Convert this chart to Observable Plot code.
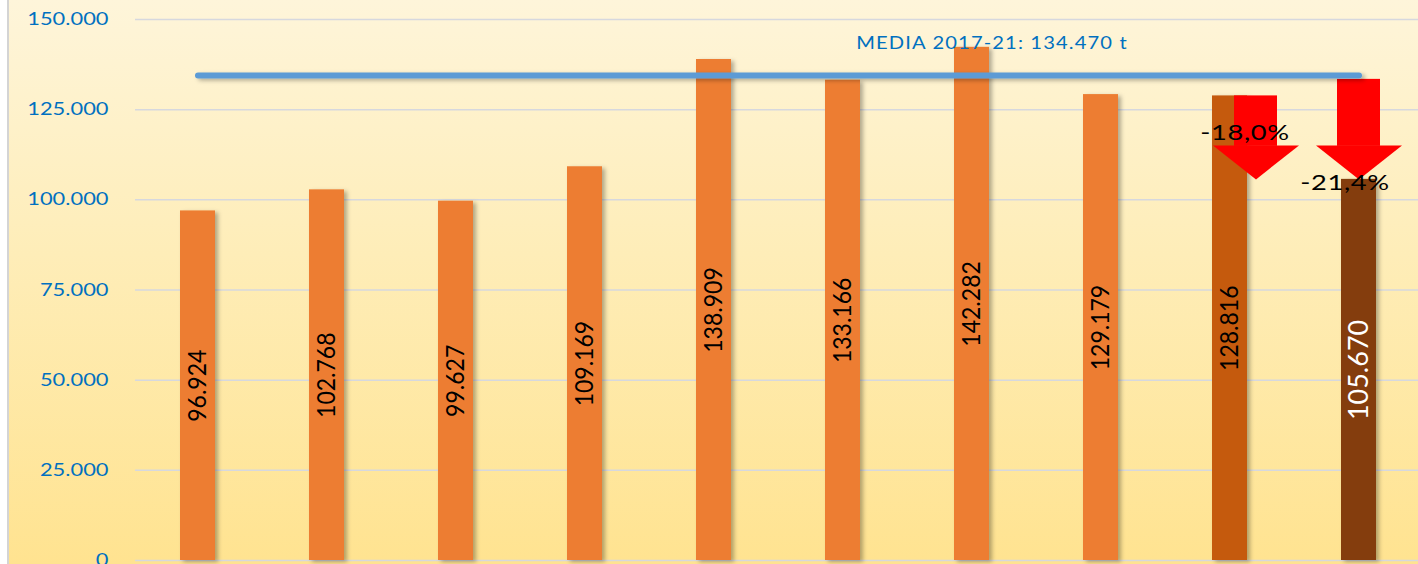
<!DOCTYPE html>
<html>
<head>
<meta charset="utf-8">
<script src="https://cdn.jsdelivr.net/npm/d3@7"></script>
<script src="https://cdn.jsdelivr.net/npm/@observablehq/plot@0.6"></script>
<style>
  html, body { margin: 0; padding: 0; background: #fff; }
  #chart svg { display: block; }
</style>
</head>
<body>
<div id="chart"></div>
<script>
// ---- data ----
const years = ["2013", "2014", "2015", "2016", "2017", "2018", "2019", "2020", "2021", "2022"];
const values = [96924, 102768, 99627, 109169, 138909, 133166, 142282, 129179, 128816, 105670];
const meanValue = 134470;
const meanLabel = "MEDIA 2017-21: 134.470 t";
const yTicks = [0, 25000, 50000, 75000, 100000, 125000, 150000];
const changeFrom = ["2021", "2022"];
const changeTop = [128816, 133400];
const changeTip = [105670, 105670];
const changeLabels = ["-18,0%", "-21,4%"];
const changeLabelY = [118400, 104500];

// ---- styles ----
const barPalette = ["#ED7D31", "#ED7D31", "#ED7D31", "#ED7D31", "#ED7D31", "#ED7D31", "#ED7D31", "#ED7D31", "#C55A11", "#843C0C"];
const arrowDx = [26, 0];
const labelDx = [15, -14];
const blue = "#0070C0";

const fmt = v => d3.format(",")(v).replace(/,/g, ".");
const bars = years.map((y, i) => ({year: y, value: values[i], color: barPalette[i], label: fmt(values[i])}));
const changes = changeFrom.map((y, i) => ({year: y, top: changeTop[i], tip: changeTip[i], label: changeLabels[i], labelY: changeLabelY[i]}));

const headSymbol = {
  draw(ctx) {
    ctx.moveTo(-43, -34);
    ctx.lineTo(43, -34);
    ctx.lineTo(0, 0);
    ctx.closePath();
  }
};

const arrowMarks = changes.flatMap((c, i) => [
  Plot.barY([c], {x: "year", y1: "tip", y2: "top", fill: "#FF0000", insetLeft: -4, insetRight: -4, insetBottom: 33, dx: arrowDx[i]}),
  Plot.dot([c], {x: "year", y: "tip", symbol: headSymbol, fill: "#FF0000", stroke: "none", dx: arrowDx[i]}),
  Plot.text([c], {x: "year", y: "labelY", text: "label", dx: labelDx[i], fill: "#000", fontSize: 21, className: "pct"})
]);

const svg = Plot.plot({
  width: 1418,
  height: 564,
  marginLeft: 135,
  marginRight: 0,
  marginTop: 19,
  marginBottom: 4,
  style: {
    fontFamily: "Lato, 'Open Sans', sans-serif",
    background: "linear-gradient(to right, #ffffff 0px, #ffffff 7px, #d4d4d4 7px, #d4d4d4 9px, transparent 9px), linear-gradient(to bottom, #FEF5DA 0%, #FEEDB8 45%, #FFE390 100%)"
  },
  x: {type: "band", domain: years, range: [132.5, 1422.5], paddingInner: 0.73, paddingOuter: 0.365, axis: null},
  y: {domain: [0, 150000], range: [560, 19], axis: null},
  color: {type: "identity"},
  marks: [
    Plot.ruleY(yTicks, {stroke: "#D6D8DE", strokeWidth: 1.5}),
    Plot.axisY(yTicks, {tickSize: 0, tickPadding: 27, tickFormat: fmt, fill: blue, fontSize: 17.5, className: "yaxis"}),
    Plot.barY(bars, {x: "year", y: "value", fill: "color", className: "bars"}),
    Plot.text(bars.slice(0, 9), {x: "year", y: d => d.value / 2, text: "label", rotate: -90, fill: "#000", fontSize: 23, className: "barlabels"}),
    Plot.text(bars.slice(9), {x: "year", y: d => d.value / 2, text: "label", rotate: -90, fill: "#fff", fontSize: 27, className: "barlabels2"}),
    ...arrowMarks,
    Plot.line([{year: years[0], v: meanValue}, {year: years[years.length - 1], v: meanValue}], {x: "year", y: "v", stroke: "#5B9BD5", strokeWidth: 6, strokeLinecap: "round", className: "meanline"}),
    Plot.text([{year: "2019", v: meanValue}], {x: "year", y: "v", text: () => meanLabel, dx: 20, dy: -32, fill: blue, fontSize: 18, className: "meanlabel"})
  ]
});

// shadow filter
const sel = d3.select(svg);
sel.insert("defs", ":first-child").html(
  '<filter id="shadow" filterUnits="userSpaceOnUse" x="0" y="0" width="1418" height="564">' +
  '<feDropShadow dx="3" dy="2" stdDeviation="2" flood-color="#000" flood-opacity="0.3"/></filter>'
);
sel.selectAll('.bars, .meanline').attr("filter", "url(#shadow)");

// stretch glyphs (the original chart is drawn wider than tall)
function stretch(cls, sx, sy, spacing) {
  svg.querySelectorAll(`.${cls} text`).forEach(t => {
    t.setAttribute("transform", `${t.getAttribute("transform") || ""} scale(${sx},${sy})`);
    if (spacing) t.style.letterSpacing = spacing;
  });
}
stretch("yaxis", 1.25, 1);
stretch("barlabels", 1, 1.12);
stretch("pct", 1.3, 1, "0.5px");
stretch("meanlabel", 1.12, 1, "1px");

document.getElementById("chart").appendChild(svg);
</script>
</body>
</html>
